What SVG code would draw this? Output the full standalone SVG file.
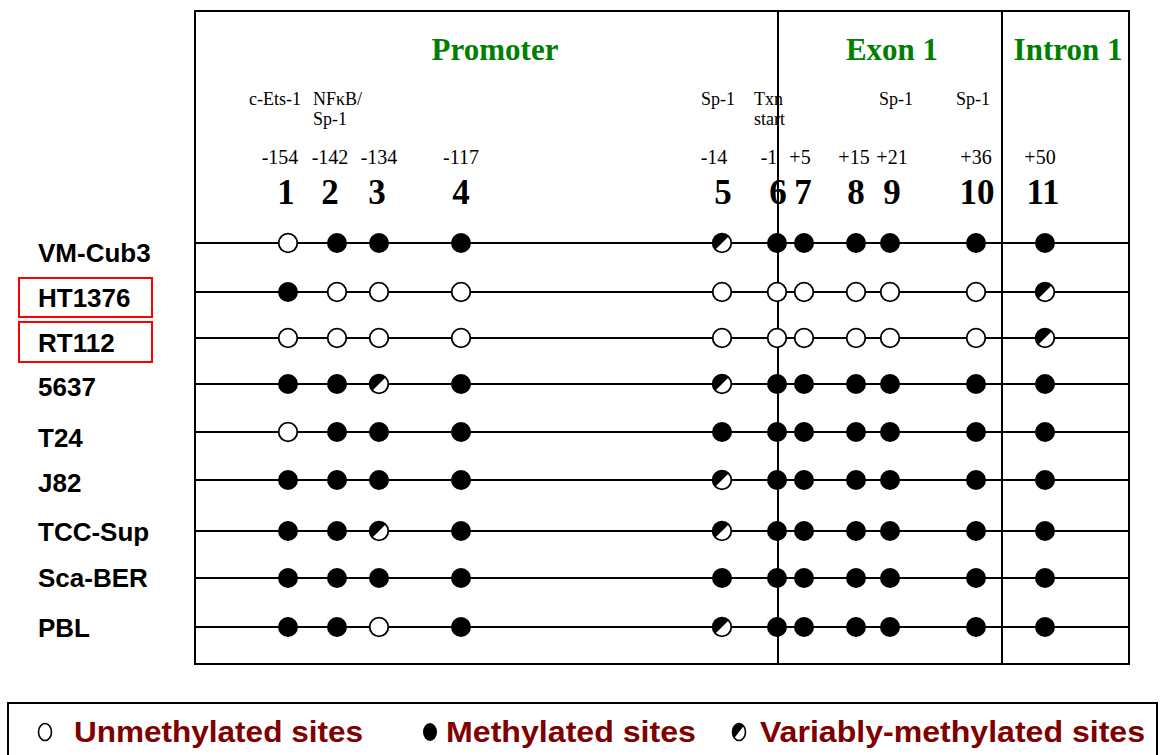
<svg xmlns="http://www.w3.org/2000/svg" xmlns:xlink="http://www.w3.org/1999/xlink" width="1162" height="755" viewBox="0 0 1162 755">
<style>
.region{font-family:"Liberation Serif","Times New Roman",serif;font-weight:bold;font-size:31px;fill:#008000;text-anchor:middle}
.ann{font-family:"Liberation Serif","Times New Roman",serif;font-size:18px;fill:#000}
.pos{font-family:"Liberation Serif","Times New Roman",serif;font-size:20px;fill:#000;text-anchor:middle}
.num{font-family:"Liberation Serif","Times New Roman",serif;font-weight:bold;font-size:35px;fill:#000;text-anchor:middle}
.lbl{font-family:"Liberation Sans",Arial,sans-serif;font-weight:bold;font-size:26px;fill:#000}
.leg{font-family:"Liberation Sans",Arial,sans-serif;font-weight:bold;font-size:30px;fill:#800000}
.frame{fill:none;stroke:#000;stroke-width:2}
.vline{stroke:#000;stroke-width:2}
.hline{stroke:#000;stroke-width:1.8}
.redbox{fill:none;stroke:#ff0000;stroke-width:2}
</style>
<defs>
<g id="o"><circle r="9.3" fill="#fff" stroke="#000" stroke-width="1.8"/></g>
<g id="f"><circle r="10" fill="#000"/></g>
<g id="h"><circle r="9.3" fill="#fff" stroke="#000" stroke-width="1.8"/><path d="M -6.8 6.8 A 9.6 9.6 0 0 1 6.8 -6.8 Z" fill="#000"/></g>
<g id="lo"><ellipse rx="6.5" ry="8.5" fill="#fff" stroke="#000" stroke-width="1.6"/></g>
<g id="lf"><ellipse rx="7" ry="9" fill="#000"/></g>
<g id="lh"><ellipse rx="6.5" ry="8.5" fill="#fff" stroke="#000" stroke-width="1.6"/><path d="M -4.6 6 A 6.5 8.5 0 0 1 4.6 -6 Z" fill="#000"/></g>
</defs>
<rect width="1162" height="755" fill="#fff"/>

<g id="header">
<text class="region" x="495" y="60">Promoter</text>
<text class="region" x="892" y="60">Exon 1</text>
<text class="region" x="1068" y="60">Intron 1</text>
<text class="ann" x="249" y="105">c-Ets-1</text>
<text class="ann" x="313" y="105">NFκB/</text>
<text class="ann" x="313" y="125">Sp-1</text>
<text class="ann" x="701" y="105">Sp-1</text>
<text class="ann" x="754" y="105">Txn</text>
<text class="ann" x="754" y="125">start</text>
<text class="ann" x="879" y="105">Sp-1</text>
<text class="ann" x="956" y="105">Sp-1</text>
<text class="pos" x="280" y="164">-154</text>
<text class="pos" x="330" y="164">-142</text>
<text class="pos" x="379" y="164">-134</text>
<text class="pos" x="461" y="164">-117</text>
<text class="pos" x="714" y="164">-14</text>
<text class="pos" x="769" y="164">-1</text>
<text class="pos" x="800" y="164">+5</text>
<text class="pos" x="854" y="164">+15</text>
<text class="pos" x="892" y="164">+21</text>
<text class="pos" x="976" y="164">+36</text>
<text class="pos" x="1040" y="164">+50</text>
<text class="num" x="286" y="204">1</text>
<text class="num" x="330" y="204">2</text>
<text class="num" x="377" y="204">3</text>
<text class="num" x="461" y="204">4</text>
<text class="num" x="723" y="204">5</text>
<text class="num" x="778" y="204">6</text>
<text class="num" x="803" y="204">7</text>
<text class="num" x="856" y="204">8</text>
<text class="num" x="892" y="204">9</text>
<text class="num" x="977" y="204">10</text>
<text class="num" x="1043" y="204">11</text>
</g>

<g id="frame">
<rect class="frame" x="195" y="11" width="934" height="653"/>
<line class="vline" x1="778" y1="11" x2="778" y2="664"/>
<line class="vline" x1="1002" y1="11" x2="1002" y2="664"/>
</g>

<g id="connectors">
<line class="hline" x1="195" y1="243" x2="1129" y2="243"/>
<line class="hline" x1="195" y1="292" x2="1129" y2="292"/>
<line class="hline" x1="195" y1="338" x2="1129" y2="338"/>
<line class="hline" x1="195" y1="384" x2="1129" y2="384"/>
<line class="hline" x1="195" y1="432" x2="1129" y2="432"/>
<line class="hline" x1="195" y1="480" x2="1129" y2="480"/>
<line class="hline" x1="195" y1="531" x2="1129" y2="531"/>
<line class="hline" x1="195" y1="578" x2="1129" y2="578"/>
<line class="hline" x1="195" y1="627" x2="1129" y2="627"/>
</g>

<g id="row-VM-Cub3">
<text class="lbl" x="38" y="262">VM-Cub3</text>
<use href="#o" x="288" y="243"/><use href="#f" x="337" y="243"/><use href="#f" x="379" y="243"/><use href="#f" x="461" y="243"/><use href="#h" x="722" y="243"/><use href="#f" x="777" y="243"/><use href="#f" x="804" y="243"/><use href="#f" x="856" y="243"/><use href="#f" x="890" y="243"/><use href="#f" x="976" y="243"/><use href="#f" x="1045" y="243"/>
</g>
<g id="row-HT1376">
<rect class="redbox" x="19" y="278" width="133" height="39"/>
<text class="lbl" x="38" y="307">HT1376</text>
<use href="#f" x="288" y="292"/><use href="#o" x="337" y="292"/><use href="#o" x="379" y="292"/><use href="#o" x="461" y="292"/><use href="#o" x="722" y="292"/><use href="#o" x="777" y="292"/><use href="#o" x="804" y="292"/><use href="#o" x="856" y="292"/><use href="#o" x="890" y="292"/><use href="#o" x="976" y="292"/><use href="#h" x="1045" y="292"/>
</g>
<g id="row-RT112">
<rect class="redbox" x="19" y="322" width="133" height="40"/>
<text class="lbl" x="38" y="352">RT112</text>
<use href="#o" x="288" y="338"/><use href="#o" x="337" y="338"/><use href="#o" x="379" y="338"/><use href="#o" x="461" y="338"/><use href="#o" x="722" y="338"/><use href="#o" x="777" y="338"/><use href="#o" x="804" y="338"/><use href="#o" x="856" y="338"/><use href="#o" x="890" y="338"/><use href="#o" x="976" y="338"/><use href="#h" x="1045" y="338"/>
</g>
<g id="row-5637">
<text class="lbl" x="38" y="396">5637</text>
<use href="#f" x="288" y="384"/><use href="#f" x="337" y="384"/><use href="#h" x="379" y="384"/><use href="#f" x="461" y="384"/><use href="#h" x="722" y="384"/><use href="#f" x="777" y="384"/><use href="#f" x="804" y="384"/><use href="#f" x="856" y="384"/><use href="#f" x="890" y="384"/><use href="#f" x="976" y="384"/><use href="#f" x="1045" y="384"/>
</g>
<g id="row-T24">
<text class="lbl" x="38" y="447">T24</text>
<use href="#o" x="288" y="432"/><use href="#f" x="337" y="432"/><use href="#f" x="379" y="432"/><use href="#f" x="461" y="432"/><use href="#f" x="722" y="432"/><use href="#f" x="777" y="432"/><use href="#f" x="804" y="432"/><use href="#f" x="856" y="432"/><use href="#f" x="890" y="432"/><use href="#f" x="976" y="432"/><use href="#f" x="1045" y="432"/>
</g>
<g id="row-J82">
<text class="lbl" x="38" y="492">J82</text>
<use href="#f" x="288" y="480"/><use href="#f" x="337" y="480"/><use href="#f" x="379" y="480"/><use href="#f" x="461" y="480"/><use href="#h" x="722" y="480"/><use href="#f" x="777" y="480"/><use href="#f" x="804" y="480"/><use href="#f" x="856" y="480"/><use href="#f" x="890" y="480"/><use href="#f" x="976" y="480"/><use href="#f" x="1045" y="480"/>
</g>
<g id="row-TCC-Sup">
<text class="lbl" x="38" y="541">TCC-Sup</text>
<use href="#f" x="288" y="531"/><use href="#f" x="337" y="531"/><use href="#h" x="379" y="531"/><use href="#f" x="461" y="531"/><use href="#h" x="722" y="531"/><use href="#f" x="777" y="531"/><use href="#f" x="804" y="531"/><use href="#f" x="856" y="531"/><use href="#f" x="890" y="531"/><use href="#f" x="976" y="531"/><use href="#f" x="1045" y="531"/>
</g>
<g id="row-Sca-BER">
<text class="lbl" x="38" y="587">Sca-BER</text>
<use href="#f" x="288" y="578"/><use href="#f" x="337" y="578"/><use href="#f" x="379" y="578"/><use href="#f" x="461" y="578"/><use href="#f" x="722" y="578"/><use href="#f" x="777" y="578"/><use href="#f" x="804" y="578"/><use href="#f" x="856" y="578"/><use href="#f" x="890" y="578"/><use href="#f" x="976" y="578"/><use href="#f" x="1045" y="578"/>
</g>
<g id="row-PBL">
<text class="lbl" x="38" y="637">PBL</text>
<use href="#f" x="288" y="627"/><use href="#f" x="337" y="627"/><use href="#o" x="379" y="627"/><use href="#f" x="461" y="627"/><use href="#h" x="722" y="627"/><use href="#f" x="777" y="627"/><use href="#f" x="804" y="627"/><use href="#f" x="856" y="627"/><use href="#f" x="890" y="627"/><use href="#f" x="976" y="627"/><use href="#f" x="1045" y="627"/>
</g>

<g id="legend">
<rect class="frame" x="8" y="703" width="1149" height="70"/>
<use href="#lo" x="45" y="732"/>
<text class="leg" x="74" y="742" textLength="289" lengthAdjust="spacingAndGlyphs">Unmethylated sites</text>
<use href="#lf" x="430" y="732"/>
<text class="leg" x="446" y="742" textLength="250" lengthAdjust="spacingAndGlyphs">Methylated sites</text>
<use href="#lh" x="739" y="732"/>
<text class="leg" x="760" y="742" textLength="385" lengthAdjust="spacingAndGlyphs">Variably-methylated sites</text>
</g>
</svg>
